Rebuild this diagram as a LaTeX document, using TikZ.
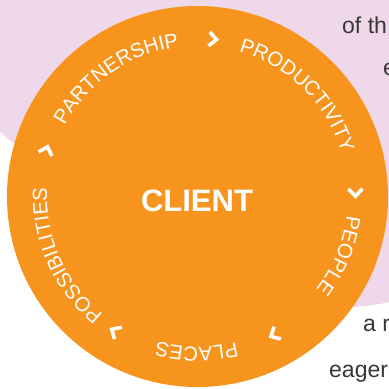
\documentclass[tikz,border=0pt]{standalone}
\usepackage{fontspec}
\setmainfont{Liberation Sans}
\usetikzlibrary{decorations.text,calc}
\definecolor{bgpink}{RGB}{239,216,233}
\definecolor{disc}{RGB}{247,148,30}
\definecolor{bodygray}{RGB}{55,55,55}
\newcommand\ringfont{\fontsize{20.3}{21}\selectfont}
\tikzset{
 ringword/.style={decorate, decoration={text along path, text={|\ringfont|#1}, text align=center, text color=white}},
 chev/.style={draw=white, line width=3.6pt, line join=miter, line cap=butt},
 bodytext/.style={anchor=base west, inner sep=0pt, text=bodygray, font=\fontsize{23}{23}\selectfont},
}
\begin{document}
\begin{tikzpicture}[x=1pt,y=1pt]
\useasboundingbox (0,0) rectangle (389,389);
\clip (0,0) rectangle (389,389);
\fill[bgpink] (0,389) -- (0,257) .. controls (120,155) and (269,58) .. (389,87) -- (389,389) -- cycle;
\node[bodytext] (l1) at (342,355) {of th};
\node[bodytext] (l2) at (383,313) {e};
\node[bodytext] (l3) at (363,57) {a r};
\node[bodytext] (l4) at (329,11) {eager};
\coordinate (C) at (197.5,192.5);
\fill[disc] (C) circle[radius=190.5pt];
\node (client) at (197,188) [text=white, font=\fontsize{31}{31}\selectfont\bfseries] {CLIENT};
\path[ringword={PARTNERSHIP}] ($(C)+(194.5:150.5pt)$) arc[start angle=194.5, end angle=54.5, radius=150.5pt];
\path[ringword={PRODUCTIVITY}] ($(C)+(115.3:150.5pt)$) arc[start angle=115.3, end angle=-24.7, radius=150.5pt];
\path[ringword={PEOPLE}] ($(C)+(47.4:150.5pt)$) arc[start angle=47.4, end angle=-92.6, radius=150.5pt];
\path[ringword={PLACES}] ($(C)+(-20.3:150.5pt)$) arc[start angle=-20.3, end angle=-160.3, radius=150.5pt];
\path[ringword={POSSIBILITIES}] ($(C)+(-86:150.5pt)$) arc[start angle=-86, end angle=-226, radius=150.5pt];
\foreach \a in {84.4,1.4,-61,-121.5,163}
  \draw[chev, shift={($(C)+(\a:158pt)$)}, rotate=\a-90] (-3.8,7) -- (3.6,0) -- (-3.8,-7);
\end{tikzpicture}
\end{document}
